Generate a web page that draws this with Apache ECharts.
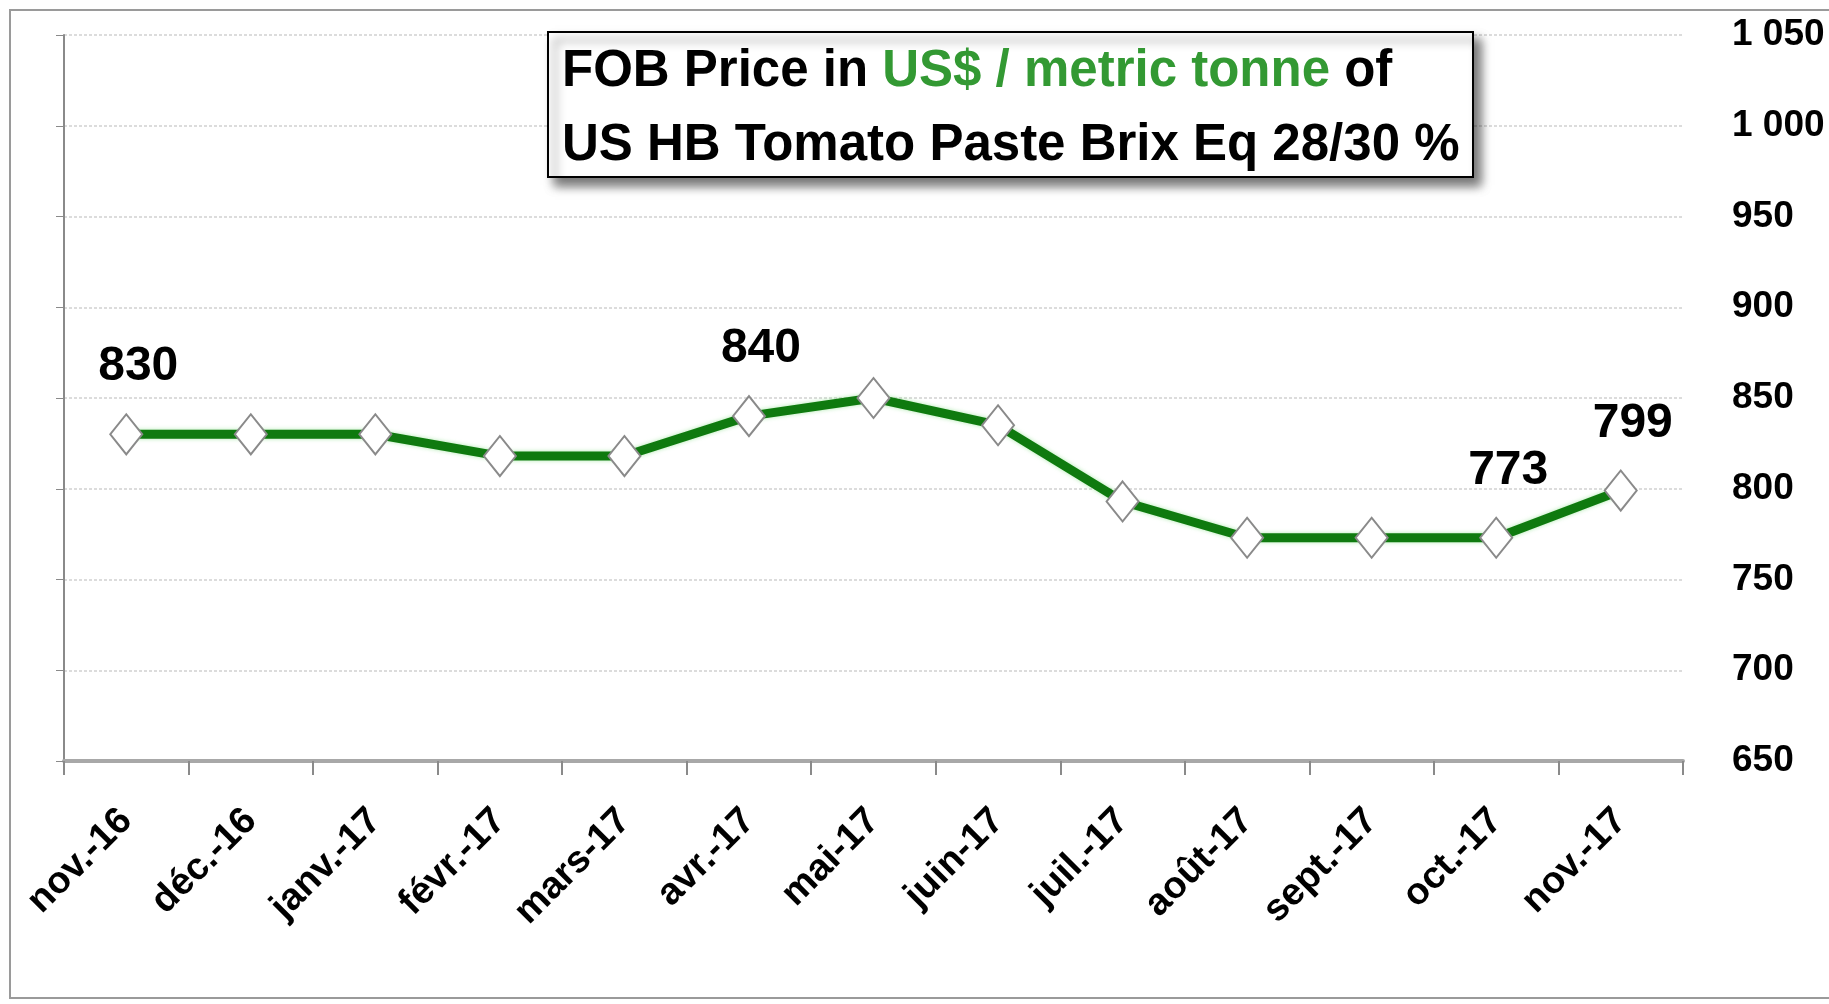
<!DOCTYPE html>
<html lang="fr">
<head>
  <meta charset="UTF-8">
  <title>FOB Price US HB Tomato Paste</title>
  <style>
    html, body { margin: 0; padding: 0; background: #fff; }
    #main { width: 1829px; height: 1004px; }
  </style>
</head>
<body>
  <div id="main"></div>
  <script src="https://cdn.jsdelivr.net/npm/echarts@6/dist/echarts.min.js"></script>
  <script type="text/javascript">
    // mois (axe des x)
    var categories = ['nov.-16', 'déc.-16', 'janv.-17', 'févr.-17', 'mars-17', 'avr.-17', 'mai-17',
      'juin-17', 'juil.-17', 'août-17', 'sept.-17', 'oct.-17', 'nov.-17'];
    // prix FOB en US$ / tonne
    var prices = [830, 830, 830, 818, 818, 840, 850, 835, 793, 773, 773, 773, 799];
    // points avec étiquette
    var labeledIdx = [0, 5, 11, 12];
    // étiquettes de l'axe y
    var yTickValues = [650, 700, 750, 800, 850, 900, 950, 1000, 1050];
    var yTickLabels = ['650', '700', '750', '800', '850', '900', '950', '1 000', '1 050'];

    var sans = "'Liberation Sans', Arial, sans-serif";

    var myChart = echarts.init(document.getElementById('main'));

    var seriesData = prices.map(function (v, i) {
      return { value: v, label: { show: labeledIdx.indexOf(i) >= 0 } };
    });

    var option = {
      backgroundColor: '#fff',
      animation: false,
      title: {
        left: 548,
        top: 20,
        text: '{a|FOB Price in }{g|US$ / metric tonne}{a| of}\n{a|US HB Tomato Paste Brix Eq 28/30 %}',
        padding: [15, 14, 6, 14],
        borderColor: '#000',
        borderWidth: 2,
        backgroundColor: '#fff',
        shadowColor: 'rgba(0,0,0,0.55)',
        shadowBlur: 10,
        shadowOffsetX: 7,
        shadowOffsetY: 8,
        textStyle: {
          align: 'center',
          rich: {
            a: { fontFamily: sans, fontWeight: 'bold', fontSize: 51, color: '#000', lineHeight: 74 },
            g: { fontFamily: sans, fontWeight: 'bold', fontSize: 51, color: '#339933', lineHeight: 74 }
          }
        }
      },
      graphic: [{
        type: 'rect',
        silent: true,
        shape: { x: 10, y: 10, width: 1830, height: 988 },
        style: { fill: 'none', stroke: '#9a9a9a', lineWidth: 2 }
      }],
      grid: { left: 64, right: 146, top: 35, bottom: 243 },
      xAxis: {
        type: 'category',
        data: categories,
        boundaryGap: true,
        axisLine: { lineStyle: { color: '#a8a8a8', width: 4 } },
        axisTick: { show: true, length: 14, lineStyle: { color: '#8a8a8a', width: 2 } },
        axisLabel: {
          rotate: 45,
          margin: 54,
          interval: 0,
          color: '#000',
          fontFamily: sans,
          fontWeight: 'bold',
          fontSize: 38
        }
      },
      yAxis: [{
        type: 'value',
        position: 'left',
        min: 650,
        max: 1050,
        interval: 50,
        axisLine: { show: true, lineStyle: { color: '#8a8a8a', width: 2 } },
        axisTick: { show: true, length: 8, lineStyle: { color: '#8a8a8a', width: 1 } },
        axisLabel: { show: false },
        splitLine: { show: true, lineStyle: { color: '#dcdcdc', width: 2, type: [3, 2] } }
      }, {
        type: 'value',
        position: 'right',
        min: 650,
        max: 1050,
        interval: 50,
        axisLine: { show: false },
        axisTick: { show: false },
        splitLine: { show: false },
        axisLabel: {
          margin: 49,
          color: '#000',
          fontFamily: sans,
          fontWeight: 'bold',
          fontSize: 37,
          formatter: function (v) {
            var i = yTickValues.indexOf(v);
            return i >= 0 ? yTickLabels[i] : '';
          }
        }
      }],
      series: [{
        name: 'FOB Price',
        type: 'line',
        yAxisIndex: 0,
        data: seriesData,
        symbol: 'diamond',
        symbolSize: [32, 40],
        lineStyle: {
          color: '#0f7a0f',
          width: 9,
          shadowColor: 'rgba(120,220,120,0.6)',
          shadowBlur: 4
        },
        itemStyle: {
          color: '#fff',
          borderColor: '#8a8a8a',
          borderWidth: 2
        },
        label: {
          position: 'top',
          distance: 22,
          offset: [12, 0],
          color: '#000',
          fontFamily: sans,
          fontWeight: 'bold',
          fontSize: 48
        }
      }]
    };

    myChart.setOption(option);
  </script>
</body>
</html>
